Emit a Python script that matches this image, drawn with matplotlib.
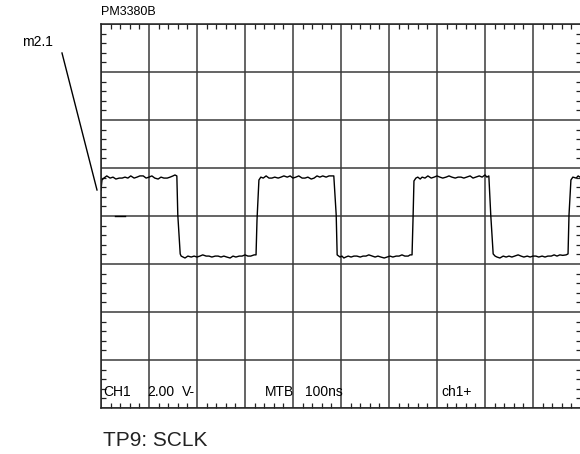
import numpy as np
import matplotlib.pyplot as plt
from matplotlib.lines import Line2D
from matplotlib.ticker import MultipleLocator

plt.rcParams['font.family'] = ['Liberation Sans', 'DejaVu Sans']

# trace: time in ns (100 ns/div), volts (2 V/div)
t_ns = [0, 2, 6, 12, 19, 25, 31, 38, 44, 50, 56, 62, 69, 75, 81, 88, 94, 100,
        106, 112, 119, 125, 131, 138, 144, 150, 154, 158, 160, 165,
        167, 171, 175, 181, 188, 194, 200, 206, 212, 219, 225, 231, 238, 244,
        250, 256, 262, 269, 275, 281, 288, 294, 300, 306, 312, 319, 323, 325, 329,
        333, 338, 344, 350, 356, 362, 369, 375, 381, 388, 394, 400, 406, 412,
        419, 425, 431, 438, 444, 450, 456, 462, 469, 475, 481, 485, 490, 492,
        498, 502, 506, 510, 515, 521, 527, 533, 540, 546, 552, 558, 565, 571,
        577, 583, 590, 596, 602, 608, 615, 621, 627, 633, 640, 644, 648, 650, 652,
        656, 660, 665, 669, 675, 681, 688, 694, 700, 706, 712, 719, 725, 731,
        738, 744, 750, 756, 762, 769, 775, 781, 788, 794, 800, 804, 808, 812, 817,
        821, 825, 831, 838, 844, 850, 856, 862, 869, 875, 881, 888, 894, 900,
        906, 912, 919, 925, 931, 938, 944, 950, 956, 962, 969, 973, 975, 979,
        983, 990, 994, 998]
volts = [1.08, 1.50, 1.58, 1.67, 1.58, 1.62, 1.54, 1.58, 1.58, 1.62, 1.58, 1.67, 1.58, 1.62, 1.67, 1.67, 1.58, 1.62,
         1.67, 1.58, 1.54, 1.62, 1.58, 1.58, 1.62, 1.67, 1.71, 1.67, 0.04, -1.58,
         -1.67, -1.71, -1.75, -1.67, -1.71, -1.67, -1.71, -1.67, -1.62, -1.67, -1.67, -1.71, -1.67, -1.67,
         -1.71, -1.67, -1.71, -1.75, -1.67, -1.71, -1.67, -1.67, -1.62, -1.67, -1.67, -1.62, -1.62, -0.17, 1.50,
         1.62, 1.58, 1.67, 1.58, 1.58, 1.62, 1.58, 1.62, 1.67, 1.62, 1.67, 1.58, 1.62, 1.67,
         1.58, 1.58, 1.62, 1.54, 1.58, 1.67, 1.62, 1.67, 1.62, 1.67, 1.67, 1.67, 0.04, -1.62,
         -1.71, -1.67, -1.75, -1.71, -1.67, -1.71, -1.67, -1.67, -1.71, -1.67, -1.67, -1.62, -1.67, -1.71,
         -1.67, -1.71, -1.75, -1.71, -1.67, -1.71, -1.67, -1.67, -1.62, -1.67, -1.67, -1.62, -1.62, -0.17, 1.46,
         1.58, 1.62, 1.54, 1.62, 1.58, 1.67, 1.58, 1.62, 1.67, 1.62, 1.58, 1.62, 1.67, 1.62,
         1.58, 1.62, 1.62, 1.58, 1.62, 1.67, 1.58, 1.62, 1.67, 1.62, 1.71, 1.62, 1.67, 0.04, -1.58,
         -1.67, -1.71, -1.75, -1.67, -1.71, -1.67, -1.71, -1.67, -1.62, -1.67, -1.71, -1.67, -1.71, -1.67,
         -1.67, -1.71, -1.67, -1.71, -1.67, -1.67, -1.62, -1.67, -1.62, -1.64, -1.62, -1.58, 0.04, 1.50,
         1.62, 1.58, 1.67, 1.62]

ground_t = [29, 50]
ground_v = [0.0, 0.0]

status_labels = ['CH1', '2.00', 'V-', 'MTB', '100ns', 'ch1+']
status_t = [5, 96, 168, 342, 426, 710]

fig = plt.figure(figsize=(5.8, 4.54), dpi=100)
ax = fig.add_axes([101 / 580, 46 / 454, 480 / 580, 384 / 454])

ax.set_xlim(0, 1000)
ax.set_ylim(-8, 8)
ax.xaxis.set_major_locator(MultipleLocator(100))
ax.yaxis.set_major_locator(MultipleLocator(2))
ax.xaxis.set_minor_locator(MultipleLocator(20))
ax.yaxis.set_minor_locator(MultipleLocator(0.4))
ax.grid(True, which='major', color='#3a3a3a', lw=1.1)
ax.tick_params(which='both', direction='in', top=True, right=True,
               labelbottom=False, labelleft=False, color='#222222', width=0.9)
ax.tick_params(which='major', length=0)
ax.tick_params(which='minor', length=3.5)
for s in ax.spines.values():
    s.set_color('#222222')
    s.set_linewidth(1.1)

ax.plot(t_ns, volts, color='black', lw=1)
ax.plot(ground_t, ground_v, color='black', lw=1)

for lab, tx in zip(status_labels, status_t):
    ax.text(tx, -7.35, lab, fontsize=10, ha='left', va='center')

fig.text(101 / 580, 1 - 12 / 454, 'PM3380B', fontsize=9, ha='left', va='center')
fig.text(22 / 580, 1 - 42 / 454, 'm2.1', fontsize=10, ha='left', va='center')
fig.add_artist(Line2D([62 / 580, 97 / 580], [1 - 53 / 454, 1 - 190 / 454],
                      transform=fig.transFigure, color='black', lw=1))
fig.text(103 / 580, 1 - 440 / 454, 'TP9: SCLK', fontsize=15, color='#222222',
         ha='left', va='center')

fig.savefig('out.png', dpi=100)
